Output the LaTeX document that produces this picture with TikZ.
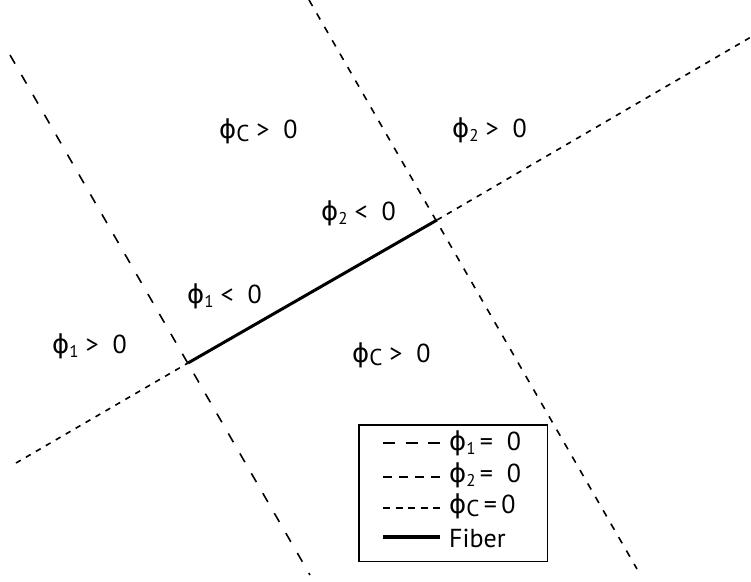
\documentclass[tikz,border=0pt]{standalone}
\usepackage{fontspec}
\setmainfont{PT Sans}
\newfontfamily\greekfont{DejaVu Sans}
\newcommand\myphi{{\greekfont ϕ}}
\newcommand\mysub[1]{\raisebox{-4pt}{\fontsize{17}{17}\selectfont #1}}
\newcommand\mysubc{\raisebox{-3pt}{\fontsize{23}{23}\selectfont C}}
\begin{document}
\begin{tikzpicture}[x=1pt,y=-1pt,
  lbl/.style={anchor=base west,inner sep=0pt,font=\fontsize{26}{26}\selectfont},
  phione/.style={line width=1.6pt,dash pattern=on 10pt off 13pt},
  phitwo/.style={line width=1.6pt,dash pattern=on 7pt off 8.5pt},
  phic/.style={line width=1.6pt,dash pattern=on 5.5pt off 6pt},
  fiberline/.style={line width=3pt},
  legbox/.style={draw,line width=1.5pt,inner sep=0pt,outer sep=0pt,minimum width=188.5pt,minimum height=136.5pt}]
\useasboundingbox (0,0) rectangle (751,581);
% intersection points and line ends
\coordinate (A) at (188,363);
\coordinate (B) at (437,220);
\coordinate (p1s) at (10,55);
\coordinate (p1e) at (310,575);
\coordinate (p2s) at (309,0);
\coordinate (p2e) at (637,569);
\coordinate (pcs) at (16,463);
\coordinate (pce) at (751,37);
\draw[phione] (p1s) -- (p1e);
\draw[phitwo] (p2s) -- (p2e);
\draw[phic] (pcs) -- (A);
\draw[phic] (B) -- (pce);
\draw[fiberline] (A) -- (B);
% region labels
\node[lbl] (l1) at (219,138) {\myphi\mysubc\ >\ \ 0};
\node[lbl] (l2) at (452,137) {\myphi\mysub{2} >\ \ 0};
\node[lbl] (l3) at (321,220) {\myphi\mysub{2} <\ \ 0};
\node[lbl] (l4) at (187,303) {\myphi\mysub{1} <\ \ 0};
\node[lbl] (l5) at (52,353) {\myphi\mysub{1} >\ \ 0};
\node[lbl] (l6) at (352,362) {\myphi\mysubc\ >\ \ 0};
% legend
\node[legbox] (leg) at (453,493) {};
\coordinate (s1a) at (383,443); \coordinate (s1b) at (440,443);
\coordinate (s2a) at (383,477); \coordinate (s2b) at (440,477);
\coordinate (s3a) at (383,508); \coordinate (s3b) at (440,508);
\coordinate (s4a) at (383,537); \coordinate (s4b) at (440,537);
\draw[line width=1.6pt,dash pattern=on 12pt off 10.5pt] (s1a) -- (s1b);
\draw[line width=1.6pt,dash pattern=on 9pt off 7pt] (s2a) -- (s2b);
\draw[line width=1.3pt,dash pattern=on 7pt off 5.5pt] (s3a) -- (s3b);
\draw[line width=3.2pt] (s4a) -- (s4b);
\node[lbl] (t1) at (449,450) {\myphi\mysub{1}\,=\ \ 0};
\node[lbl] (t2) at (449,482) {\myphi\mysub{2}\,=\ \ 0};
\node[lbl] (t3) at (449,513) {\myphi\mysubc\,=\,0};
\node[lbl] (t4) at (449,547) {Fiber};
\end{tikzpicture}
\end{document}
